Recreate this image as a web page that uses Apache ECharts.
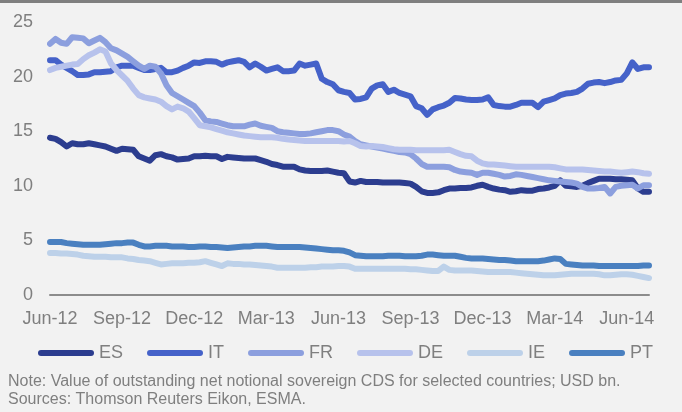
<!DOCTYPE html>
<html>
<head>
<meta charset="utf-8">
<script src="https://cdn.jsdelivr.net/npm/echarts@6/dist/echarts.min.js"></script>
<style>
html,body{margin:0;padding:0;background:#f2f2f2;}
#chart{width:682px;height:412px;}
</style>
</head>
<body>
<div id="chart"></div>
<script>
// Weekly observations, Jun-2012 .. end Jul-2014 (USD bn)
const tickLabels = ['Jun-12','Sep-12','Dec-12','Mar-13','Jun-13','Sep-13','Dec-13','Mar-14','Jun-14'];
const seriesNames = ['ES','IT','FR','DE','IE','PT'];

const ES = [14.4,14.3,14.0,13.6,13.9,13.8,13.8,13.9,13.8,13.7,13.6,13.4,13.2,13.4,13.35,13.3,12.7,12.5,12.3,12.8,
12.9,12.7,12.6,12.4,12.45,12.5,12.7,12.7,12.75,12.7,12.7,12.45,12.65,12.6,12.55,12.5,12.5,12.5,12.35,12.2,
12.0,11.9,11.75,11.75,11.75,11.5,11.4,11.35,11.35,11.35,11.4,11.3,11.2,11.15,10.4,10.3,10.45,10.35,10.35,10.35,
10.3,10.3,10.3,10.3,10.25,10.2,9.9,9.5,9.35,9.35,9.4,9.6,9.75,9.75,9.8,9.8,9.85,10.0,10.1,9.9,
9.75,9.65,9.6,9.45,9.5,9.6,9.55,9.55,9.7,9.75,9.85,10.0,10.5,10.0,9.95,9.9,10.0,10.25,10.45,10.65,
10.65,10.65,10.6,10.6,10.55,10.5,9.75,9.45,9.45];

const IT = [21.5,21.5,21.1,20.8,20.5,20.15,20.15,20.2,20.4,20.4,20.45,20.5,20.85,21.0,21.0,21.0,20.8,20.6,20.6,20.7,
20.8,20.4,20.4,20.55,20.8,21.0,21.3,21.25,21.4,21.4,21.35,21.1,21.3,21.4,21.5,21.35,20.85,21.2,20.9,20.55,
20.7,20.85,20.5,20.5,20.55,21.2,21.0,21.1,21.2,19.8,19.5,19.3,18.75,18.6,18.5,17.9,17.95,18.1,18.9,19.2,
19.3,18.6,18.8,18.5,18.35,18.2,17.3,17.1,16.5,17.0,17.2,17.35,17.6,18.05,18.0,17.9,17.85,17.85,17.9,18.1,
17.4,17.3,17.25,17.25,17.4,17.6,17.6,17.6,17.2,17.7,17.85,18.0,18.3,18.45,18.5,18.6,18.9,19.35,19.45,19.5,
19.4,19.5,19.65,19.7,20.3,21.3,20.7,20.85,20.85];

const FR = [23.0,23.45,23.1,23.0,23.6,23.55,23.5,23.05,23.3,23.55,23.15,22.6,22.4,22.1,21.8,21.4,21.0,20.7,21.0,20.9,
20.3,19.2,18.5,18.2,17.9,17.6,17.3,16.7,16.0,15.9,15.85,15.7,15.55,15.45,15.45,15.45,15.6,15.7,15.5,15.4,
15.3,15.0,14.9,14.85,14.8,14.75,14.75,14.8,14.9,15.0,15.1,15.1,15.0,14.7,14.5,14.1,13.8,13.7,13.6,13.5,
13.4,13.3,13.2,13.1,13.05,12.9,12.5,12.0,11.75,11.75,11.75,11.75,11.7,11.45,11.3,11.25,11.2,11.0,11.2,11.2,
11.1,11.0,10.85,10.9,11.05,11.0,10.9,10.8,10.7,10.6,10.5,10.45,10.4,10.35,10.3,10.2,9.9,9.75,9.75,9.8,
9.9,9.3,9.9,10.0,10.05,10.1,9.75,10.05,10.05];

const DE = [20.6,20.8,20.9,21.0,21.1,21.15,21.6,21.95,22.2,22.5,22.3,21.2,20.6,20.1,19.6,18.9,18.3,18.1,18.0,17.9,
17.7,17.3,17.0,17.25,17.1,16.8,16.2,15.55,15.45,15.35,15.2,15.05,14.9,14.8,14.7,14.6,14.55,14.5,14.45,14.45,
14.45,14.4,14.3,14.25,14.2,14.15,14.1,14.1,14.1,14.1,14.1,14.1,14.1,14.05,14.1,13.9,13.65,13.6,13.65,13.6,
13.55,13.45,13.35,13.3,13.3,13.3,13.25,13.25,13.25,13.25,13.25,13.25,13.3,13.1,12.9,12.75,12.7,12.3,12.05,11.95,
11.95,11.9,11.85,11.8,11.75,11.75,11.75,11.75,11.75,11.75,11.75,11.7,11.6,11.5,11.5,11.5,11.5,11.45,11.4,11.35,
11.3,11.3,11.25,11.2,11.25,11.3,11.25,11.15,11.1];

const IE = [3.85,3.85,3.8,3.8,3.75,3.7,3.6,3.55,3.5,3.5,3.5,3.45,3.45,3.45,3.35,3.3,3.2,3.15,3.1,2.95,
2.8,2.85,2.9,2.9,2.9,2.95,2.95,3.0,3.1,2.95,2.8,2.65,2.9,2.85,2.85,2.8,2.8,2.75,2.7,2.65,
2.6,2.5,2.5,2.5,2.5,2.5,2.5,2.55,2.55,2.6,2.6,2.6,2.65,2.65,2.6,2.4,2.4,2.4,2.4,2.4,
2.4,2.4,2.4,2.4,2.4,2.35,2.35,2.3,2.25,2.2,2.2,2.6,2.3,2.25,2.25,2.25,2.25,2.2,2.15,2.1,
2.1,2.1,2.1,2.1,2.05,2.0,1.95,1.9,1.85,1.8,1.8,1.8,1.85,1.9,1.95,1.95,1.95,1.95,1.95,1.9,
1.8,1.8,1.85,1.9,1.9,1.85,1.75,1.65,1.55];

const PT = [4.85,4.85,4.85,4.75,4.7,4.65,4.6,4.6,4.6,4.6,4.65,4.7,4.75,4.75,4.8,4.8,4.6,4.45,4.45,4.5,
4.5,4.5,4.45,4.45,4.45,4.4,4.4,4.45,4.45,4.4,4.4,4.35,4.3,4.35,4.4,4.45,4.45,4.5,4.5,4.5,
4.45,4.4,4.4,4.4,4.4,4.4,4.35,4.3,4.25,4.2,4.15,4.1,4.1,4.05,3.9,3.65,3.6,3.55,3.55,3.55,
3.55,3.6,3.6,3.6,3.55,3.55,3.55,3.6,3.7,3.7,3.65,3.6,3.6,3.6,3.5,3.4,3.35,3.35,3.35,3.3,
3.25,3.2,3.2,3.15,3.1,3.1,3.1,3.1,3.1,3.15,3.25,3.35,3.3,2.85,2.8,2.75,2.7,2.7,2.7,2.65,
2.65,2.65,2.65,2.65,2.65,2.65,2.65,2.7,2.7];

const colors = ['#2c3d8f','#4562c9','#8c9fde','#b7c2ec','#bdd1e9','#4a80c0'];

// weekly category labels
const categories = [];
(function(){
  const start = new Date(Date.UTC(2012,5,1));
  for (let i = 0; i < ES.length; i++) {
    const d = new Date(start.getTime() + i*7*86400000);
    categories.push(d.toISOString().slice(0,10));
  }
})();

const seriesData = [ES, IT, FR, DE, IE, PT];
const FONT = "'Liberation Sans', Arial, sans-serif";
const GREY = '#7f7f7f';

const chart = echarts.init(document.getElementById('chart'), null, {renderer:'canvas'});
chart.setOption({
  backgroundColor: '#f2f2f2',
  animation: false,
  textStyle: {fontFamily: FONT},
  graphic: [
    {type:'rect', left:0, top:0, shape:{width:682, height:3}, style:{fill:'#7f7f7f'}},
    {type:'text', left:8, top:374, style:{text:'Note: Value of outstanding net notional sovereign CDS for selected countries; USD bn.', fill:GREY, font:'16px ' + FONT}},
    {type:'text', left:8, top:392, style:{text:'Sources: Thomson Reuters Eikon, ESMA.', fill:GREY, font:'16px ' + FONT}}
  ],
  grid: {left:50, right:33, top:22, bottom:117, containLabel:false},
  legend: {
    data: seriesNames,
    left: 33, top: 339,
    itemWidth: 56, itemHeight: 6, itemGap: 24,
    icon: 'path://M3 0H53A3 3 0 0 1 53 6H3A3 3 0 0 1 3 0Z',
    textStyle: {color: GREY, fontSize: 18, fontFamily: FONT}
  },
  xAxis: {
    type: 'category',
    data: categories,
    boundaryGap: false,
    axisLine: {lineStyle: {color: '#8c8c8c', width: 2}},
    axisTick: {show: false},
    axisLabel: {
      interval: 12,
      color: GREY, fontSize: 18, fontFamily: FONT, margin: 15,
      formatter: function(v, idx){ return tickLabels[Math.round(idx/13)] || ''; }
    },
    splitLine: {show: false}
  },
  yAxis: {
    type: 'value',
    min: 0, max: 25, interval: 5,
    axisLine: {show: false},
    axisTick: {show: false},
    splitLine: {show: false},
    axisLabel: {color: GREY, fontSize: 18, fontFamily: FONT, margin: 17}
  },
  series: seriesNames.map(function(n, k){
    return {
      name: n, type: 'line', data: seriesData[k],
      symbol: 'none', smooth: false,
      itemStyle: {color: colors[k]},
      lineStyle: {color: colors[k], width: 6, cap: 'round', join: 'round'}
    };
  })
});
</script>
</body>
</html>
